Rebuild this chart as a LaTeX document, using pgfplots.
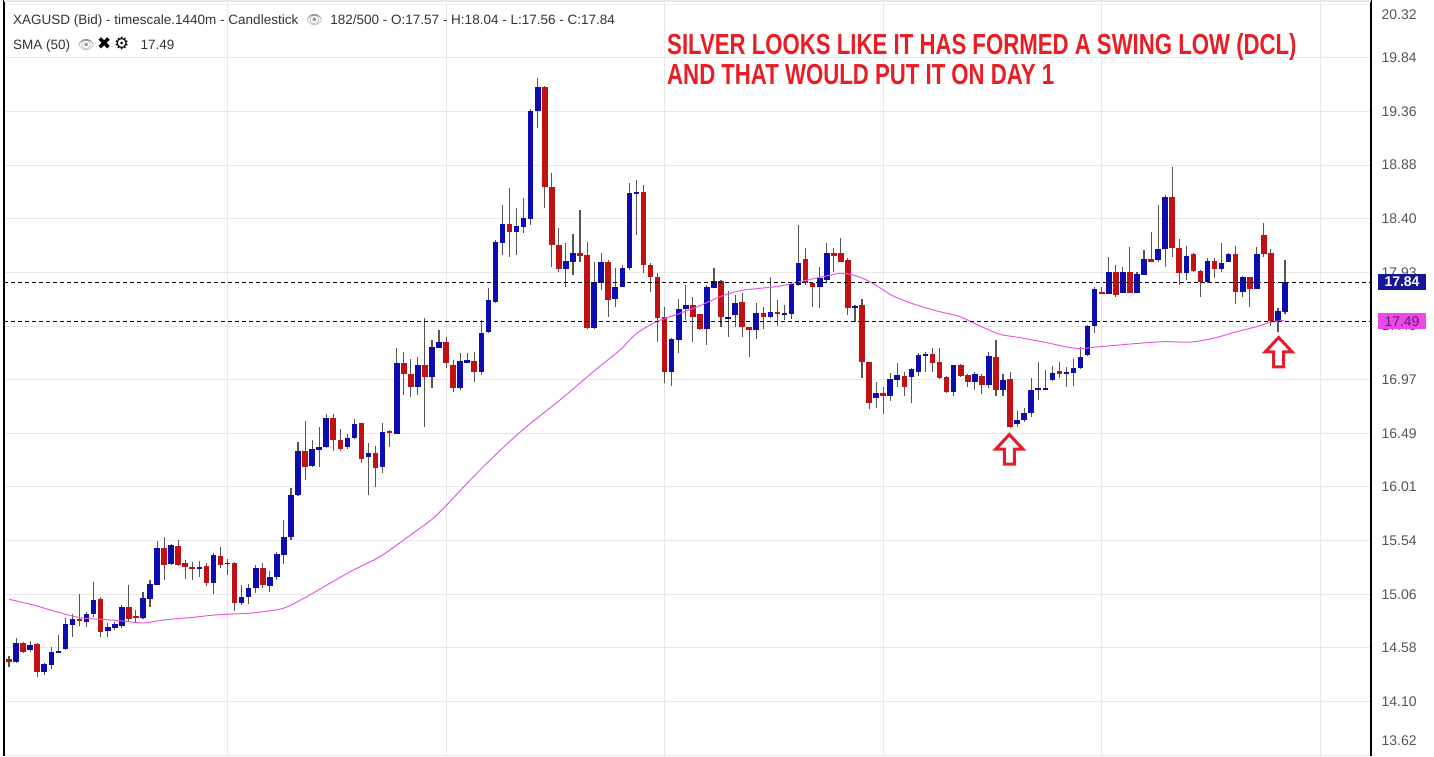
\documentclass[border=0pt]{standalone}
\usepackage{pgfplots}
\pgfplotsset{compat=1.18}
\usepackage{pgfplotstable}
\usepackage{fontspec}
\setmainfont{Liberation Sans}
\newfontfamily\emo{Noto Emoji}
\newfontfamily\dejavu{DejaVu Sans}
\newfontfamily\annotfont{Liberation Sans Bold}[FakeStretch=0.765]
\definecolor{gridgray}{RGB}{232,232,232}
\definecolor{wick}{RGB}{85,85,85}
\definecolor{cblue}{RGB}{12,12,175}
\definecolor{cred}{RGB}{192,18,18}
\definecolor{sma}{RGB}{228,92,228}
\definecolor{boxblue}{RGB}{22,22,150}
\definecolor{boxmag}{RGB}{236,72,236}
\definecolor{arrred}{RGB}{228,30,40}
\definecolor{annred}{RGB}{232,30,36}
\definecolor{hdr}{RGB}{51,51,51}
\definecolor{lbl}{RGB}{85,85,85}
\definecolor{eyegray}{RGB}{150,150,150}

\pgfplotstableread{
i o h l c
0 14.48 14.505 14.41 14.45
1 14.454 14.663 14.44 14.618
2 14.618 14.632 14.535 14.543
3 14.559 14.641 14.543 14.603
4 14.612 14.618 14.315 14.365
5 14.365 14.44 14.34 14.434
6 14.425 14.583 14.387 14.543
7 14.535 14.693 14.533 14.553
8 14.565 14.84 14.559 14.79
9 14.782 14.877 14.677 14.833
10 14.835 15.058 14.77 14.817
11 14.811 14.90 14.767 14.88
12 14.877 15.168 14.856 15.005
13 15.014 15.029 14.672 14.722
14 14.728 14.797 14.677 14.766
15 14.752 14.81 14.737 14.79
16 14.773 14.96 14.752 14.945
17 14.94 15.138 14.82 14.832
18 14.862 14.915 14.797 14.842
19 14.847 15.079 14.838 15.02
20 15.016 15.183 14.94 15.145
21 15.138 15.534 15.138 15.466
22 15.466 15.57 15.183 15.317
23 15.326 15.504 15.317 15.495
24 15.489 15.54 15.308 15.317
25 15.337 15.362 15.19 15.296
26 15.302 15.346 15.183 15.281
27 15.285 15.355 15.213 15.295
28 15.31 15.332 15.13 15.159
29 15.159 15.421 15.058 15.406
30 15.40 15.48 15.287 15.317
31 15.323 15.368 15.228 15.337
32 15.332 15.346 14.909 14.975
33 14.98 15.138 14.96 15.029
34 15.029 15.147 14.969 15.109
35 15.109 15.317 15.064 15.287
36 15.287 15.332 15.109 15.138
37 15.13 15.266 15.073 15.207
38 15.207 15.43 15.183 15.415
39 15.406 15.718 15.326 15.57
40 15.564 16.001 15.54 15.941
41 15.941 16.417 15.932 16.337
42 16.337 16.604 16.075 16.188
43 16.20 16.432 16.188 16.349
44 16.343 16.551 16.194 16.372
45 16.367 16.661 16.358 16.626
46 16.626 16.661 16.337 16.432
47 16.432 16.527 16.337 16.352
48 16.367 16.486 16.352 16.447
49 16.447 16.617 16.438 16.572
50 16.581 16.586 16.224 16.262
51 16.278 16.408 15.941 16.313
52 16.313 16.378 16.015 16.18
53 16.194 16.581 16.14 16.506
54 16.515 16.521 16.372 16.492
55 16.485 17.250 16.485 17.122
56 17.122 17.220 16.833 17.021
57 17.021 17.152 16.818 16.902
58 16.902 17.175 16.833 17.101
59 17.101 17.517 16.551 16.991
60 16.997 17.324 16.893 17.265
61 17.250 17.413 17.25 17.309
62 17.309 17.354 17.071 17.122
63 17.101 17.146 16.863 16.893
64 16.893 17.205 16.878 17.140
65 17.122 17.205 17.116 17.146
66 17.140 17.220 16.952 17.042
67 17.042 17.502 17.012 17.383
68 17.398 17.785 17.383 17.681
69 17.666 18.216 17.651 18.201
70 18.192 18.528 18.082 18.359
71 18.359 18.677 18.067 18.290
72 18.290 18.499 18.082 18.341
73 18.335 18.588 18.282 18.409
74 18.400 19.382 18.350 19.370
75 19.370 19.658 19.212 19.584
76 19.584 19.590 18.499 18.686
77 18.692 18.811 17.978 18.172
78 18.172 18.320 17.934 17.954
79 17.954 18.186 17.800 18.032
80 18.023 18.270 17.904 18.097
81 18.097 18.484 18.023 18.073
82 18.079 18.201 17.419 17.428
83 17.428 18.023 17.419 17.841
84 17.835 18.097 17.770 18.023
85 18.023 18.038 17.532 17.681
86 17.687 17.963 17.615 17.800
87 17.800 17.993 17.800 17.963
88 17.963 18.722 17.948 18.632
89 18.627 18.751 18.261 18.641
90 18.641 18.707 17.919 17.993
91 17.993 18.008 17.755 17.883
92 17.889 17.919 17.309 17.517
93 17.532 17.621 16.943 17.042
94 17.042 17.339 16.914 17.330
95 17.324 17.687 17.211 17.598
96 17.598 17.815 17.502 17.636
97 17.636 17.711 17.309 17.526
98 17.556 17.556 17.413 17.419
99 17.419 17.815 17.279 17.794
100 17.785 17.963 17.785 17.853
101 17.853 17.859 17.437 17.526
102 17.514 17.764 17.354 17.532
103 17.547 17.725 17.443 17.657
104 17.666 17.740 17.354 17.437
105 17.443 17.443 17.175 17.413
106 17.413 17.651 17.330 17.562
107 17.562 17.621 17.419 17.526
108 17.526 17.889 17.517 17.577
109 17.577 17.681 17.449 17.556
110 17.547 17.636 17.502 17.562
111 17.556 17.844 17.508 17.823
112 17.815 18.350 17.806 18.008
113 18.044 18.142 17.815 17.829
114 17.835 17.835 17.621 17.794
115 17.794 17.978 17.607 17.874
116 17.859 18.186 17.829 18.097
117 18.097 18.142 17.934 18.073
118 18.097 18.231 18.023 18.023
119 18.038 18.053 17.547 17.607
120 17.607 17.636 17.487 17.627
121 17.636 17.687 16.982 17.131
122 17.131 17.131 16.706 16.765
123 16.804 16.952 16.714 16.848
124 16.854 16.908 16.664 16.824
125 16.824 17.033 16.783 16.973
126 16.967 17.116 16.908 17.012
127 17.003 17.042 16.824 16.908
128 16.991 17.071 16.759 17.062
129 17.042 17.205 17.0 17.190
130 17.181 17.220 17.042 17.199
131 17.196 17.250 17.042 17.116
132 17.131 17.250 16.973 16.982
133 16.997 17.003 16.854 16.863
134 16.863 17.101 16.824 17.101
135 17.101 17.110 16.991 17.003
136 17.012 17.021 16.908 16.952
137 16.952 17.042 16.878 17.021
138 17.003 17.021 16.842 16.923
139 16.923 17.220 16.893 17.181
140 17.175 17.324 16.824 16.878
141 16.878 17.021 16.827 16.967
142 16.973 17.042 16.536 16.545
143 16.575 16.694 16.551 16.610
144 16.610 16.714 16.596 16.670
145 16.670 16.982 16.634 16.878
146 16.878 17.131 16.789 16.893
147 16.878 17.056 16.878 16.893
148 16.967 17.092 16.961 17.033
149 17.050 17.131 16.982 17.021
150 17.021 17.086 16.908 17.042
151 17.033 17.152 16.914 17.071
152 17.071 17.259 17.062 17.175
153 17.190 17.458 17.181 17.449
154 17.449 17.800 17.384 17.776
155 17.755 17.800 17.734 17.734
156 17.734 18.067 17.734 17.934
157 17.934 17.993 17.711 17.725
158 17.746 17.978 17.746 17.934
159 17.934 18.157 17.746 17.746
160 17.746 17.934 17.746 17.913
161 17.904 18.127 17.904 18.044
162 18.044 18.290 18.023 18.023
163 18.038 18.528 18.023 18.133
164 18.133 18.618 17.972 18.603
165 18.603 18.870 18.067 18.142
166 18.142 18.222 17.815 17.919
167 17.919 18.163 17.859 18.073
168 18.091 18.097 17.934 17.943
169 17.943 17.949 17.711 17.844
170 17.844 18.053 17.835 18.032
171 18.032 18.053 17.874 17.954
172 17.954 18.186 17.934 18.008
173 18.023 18.103 18.023 18.091
174 18.091 18.163 17.645 17.755
175 17.755 17.895 17.705 17.889
176 17.889 17.889 17.621 17.776
177 17.776 18.157 17.776 18.091
178 18.261 18.371 18.067 18.091
179 18.097 18.133 17.449 17.496
180 17.496 17.606 17.398 17.586
181 17.57 18.04 17.56 17.84
}\candles

\begin{document}
\begin{tikzpicture}
\begin{axis}[
  scale only axis, width=1367pt, height=756pt,
  xmin=-0.71, xmax=193.2, ymin=13.613, ymax=20.357,
  axis line style={draw=none},
  clip=false,
  xtick={31,62,93,124,155,186}, xticklabels={},
  ytick={13.62,14.0986,14.5771,15.0557,15.5343,16.0129,16.4914,16.97,17.4486,17.9271,18.4057,18.8843,19.3629,19.8414,20.32},
  yticklabels={,14.10,14.58,15.06,15.54,16.01,16.49,16.97,17.45,17.93,18.40,18.88,19.36,19.84,},
  yticklabel pos=right,
  major tick length=0pt,
  tick style={draw=none},
  grid=major, grid style={color=gridgray, line width=1pt},
  yticklabel style={anchor=west, xshift=7pt, font=\fontsize{14}{16}\selectfont, text=lbl},
]
% wicks
\addplot[draw=none, mark=none, error bars/.cd, y dir=plus, y explicit,
  error mark=none, error bar style={draw=wick, line width=1.1pt}]
  table[x=i, y=l, y error plus expr={\thisrow{h}-\thisrow{l}}] {\candles};
% up bodies
\addplot[draw=none, mark=none,
  restrict expr to domain={\thisrow{c}-\thisrow{o}}{0:10},
  error bars/.cd, y dir=plus, y explicit,
  error mark=none, error bar style={draw=cblue, line width=5.6pt}]
  table[x=i, y expr={min(\thisrow{o},\thisrow{c})}, y error plus expr={max(abs(\thisrow{c}-\thisrow{o}),0.015)}] {\candles};
% down bodies
\addplot[draw=none, mark=none,
  restrict expr to domain={\thisrow{c}-\thisrow{o}}{-10:0},
  error bars/.cd, y dir=plus, y explicit,
  error mark=none, error bar style={draw=cred, line width=5.6pt}]
  table[x=i, y expr={min(\thisrow{o},\thisrow{c})}, y error plus expr={max(abs(\thisrow{c}-\thisrow{o}),0.015)}] {\candles};
% SMA(50)
\addplot[sma, line width=1pt, mark=none, smooth, tension=0.45] coordinates {
(0,15.011) (3.45,14.960) (7.23,14.891) (10.07,14.847) (12.9,14.832) (15.74,14.820) (19.05,14.800) (22.37,14.830) (26.14,14.850) (28.98,14.870) (31.82,14.880) (34.65,14.890) (38.91,14.931) (42.23,15.034) (45.06,15.138) (48.84,15.272) (52.62,15.391) (56.41,15.560) (59.25,15.689) (61.13,15.790) (66.8,16.164) (72.5,16.503) (78.16,16.789) (82.88,17.041) (86.67,17.235) (89.04,17.384) (91.87,17.487) (95.18,17.562) (98.01,17.630) (100.85,17.710) (103.69,17.764) (106.52,17.785) (109.36,17.805) (112.2,17.844) (115.04,17.883) (117.87,17.918) (119.76,17.904) (122.13,17.844) (125.43,17.716) (128.75,17.636) (132.06,17.576) (134.9,17.532) (137.73,17.449) (140.57,17.375) (143.4,17.345) (147.19,17.300) (150.02,17.262) (151.91,17.248) (154.75,17.264) (159.0,17.288) (163.73,17.309) (167.52,17.305) (170.82,17.339) (174.14,17.398) (176.98,17.443) (178.87,17.482) (180.85,17.50)
};
% last price and SMA level
\addplot[black, line width=1pt, dash pattern=on 4pt off 3pt, mark=none] coordinates {(-0.71,17.84) (193.2,17.84)};
\addplot[black, line width=1pt, dash pattern=on 4pt off 3pt, mark=none] coordinates {(-0.71,17.49) (193.2,17.49)};
\coordinate (b84) at (axis cs:193.2,17.84);
\coordinate (b49) at (axis cs:193.2,17.49);
\coordinate (t2032) at (axis cs:193.2,20.223);
\coordinate (t1362) at (axis cs:193.2,13.747);
\coordinate (a1) at (axis cs:141.9,16.503);
\coordinate (a2) at (axis cs:180.1,17.369);
\end{axis}
% frame
\draw[black, line width=1.2pt] (current axis.south west) -- (current axis.north west);
\draw[black, line width=1.2pt] (current axis.south east) -- (current axis.north east);
\draw[gridgray, line width=2pt] ([yshift=-1pt]current axis.north west) -- ([yshift=-1pt]current axis.north east);
% extreme tick labels
\node[anchor=west, xshift=7pt, font=\fontsize{14}{16}\selectfont, text=lbl] at (t2032) {20.32};
\node[anchor=west, xshift=7pt, font=\fontsize{14}{16}\selectfont, text=lbl] at (t1362) {13.62};
% price boxes
\node[fill=boxblue, text=white, font=\bfseries\fontsize{14}{16}\selectfont, minimum width=48pt, minimum height=16pt, inner sep=0pt] at ([xshift=31pt]b84) {17.84};
\node[fill=boxmag, text={rgb,255:red,90;green,40;blue,90}, font=\fontsize{14}{16}\selectfont, minimum width=48pt, minimum height=16pt, inner sep=0pt] at ([xshift=31pt]b49) {17.49};
% arrows
\foreach \a in {a1,a2}{
  \draw[arrred, line width=3pt, fill=white, line join=miter]
    ([yshift=-2.5pt]\a) -- ++(13.5pt,-14.5pt) -- ++(-8.5pt,0) -- ++(0,-15pt) -- ++(-10pt,0) -- ++(0,15pt) -- ++(-8.5pt,0) -- cycle;
}
% header
\node[anchor=base west, inner sep=0pt, font=\fontsize{13.5}{16}\selectfont, text=hdr] at ([xshift=9pt,yshift=-25pt]current axis.north west)
  {XAGUSD (Bid) - timescale.1440m - Candlestick\ \ {\emo\textcolor{eyegray}{👁}}\ \ 182/500 - O:17.57 - H:18.04 - L:17.56 - C:17.84};
\node[anchor=base west, inner sep=0pt, font=\fontsize{13.5}{16}\selectfont, text=hdr] at ([xshift=9pt,yshift=-50pt]current axis.north west)
  {SMA (50)\ \ {\emo\textcolor{eyegray}{👁}}\,{\dejavu\fontsize{17}{18}\selectfont\textcolor{black}{✖\,⚙}}\ \ \ 17.49};
% annotation
\node[anchor=base west, inner sep=0pt, text=annred, font=\annotfont\fontsize{29}{30}\selectfont] at ([xshift=663pt,yshift=-55pt]current axis.north west)
  {SILVER LOOKS LIKE IT HAS FORMED A SWING LOW (DCL)};
\node[anchor=base west, inner sep=0pt, text=annred, font=\annotfont\fontsize{29}{30}\selectfont] at ([xshift=663pt,yshift=-85pt]current axis.north west)
  {AND THAT WOULD PUT IT ON DAY 1};
\pgfresetboundingbox
\path[use as bounding box] ([xshift=-4pt]current axis.south west) rectangle ([xshift=63pt]current axis.north east);
\end{tikzpicture}
\end{document}
